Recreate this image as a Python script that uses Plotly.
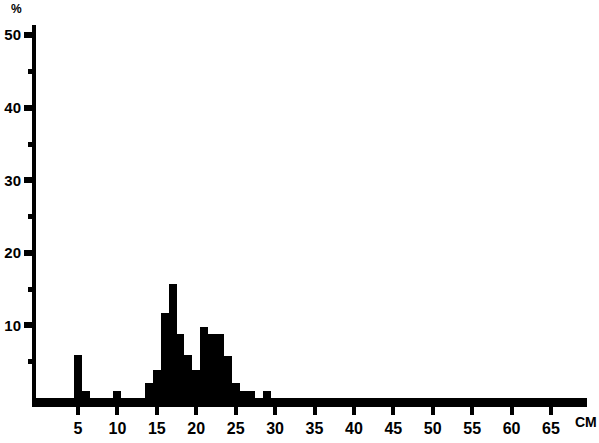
import plotly.graph_objects as go

# Data: size class (cm) and percentage
lengths = [5, 6, 10, 14, 15, 16, 17, 18, 19, 20, 21, 22, 23, 24, 25, 26, 27, 29]
percent = [5.9, 1.0, 1.0, 2.0, 3.9, 11.7, 15.7, 8.8, 5.9, 3.9, 9.8, 8.8, 8.8, 5.8, 2.0, 1.0, 1.0, 1.0]

x_ticks = [5, 10, 15, 20, 25, 30, 35, 40, 45, 50, 55, 60, 65]
y_ticks = [10, 20, 30, 40, 50]

FONT = "Liberation Sans, Arial, sans-serif"

fig = go.Figure(go.Bar(
    x=lengths, y=percent, width=1.0,
    marker=dict(color="black", line=dict(width=0)),
))

fig.update_layout(
    width=599, height=443,
    margin=dict(l=36, r=12, t=25, b=45),
    paper_bgcolor="white", plot_bgcolor="white",
    bargap=0, showlegend=False,
    font=dict(family=FONT, color="black", size=16, weight="bold"),
)

fig.update_xaxes(
    range=[-0.33, 69.57], automargin=False,
    showgrid=False, zeroline=False,
    showline=True, linecolor="black", linewidth=9,
    ticks="outside", ticklen=8, tickwidth=4, tickcolor="black",
    tickvals=x_ticks, ticktext=[str(v) for v in x_ticks],
    tickfont=dict(family=FONT, size=16, color="black", weight="bold"),
)

fig.update_yaxes(
    range=[0, 51.4], automargin=False,
    showgrid=False, zeroline=False,
    showline=True, linecolor="black", linewidth=4,
    ticks="outside", ticklen=8, tickwidth=6, tickcolor="black",
    tickvals=y_ticks, ticktext=[str(v) for v in y_ticks],
    tickfont=dict(family=FONT, size=15, color="black", weight="bold"),
    minor=dict(tickvals=[5, 15, 25, 35, 45], ticks="outside", ticklen=4,
               tickwidth=5, tickcolor="black", showgrid=False),
)

fig.add_annotation(text="%", xref="paper", yref="paper", x=-0.036, y=1.0,
                   xanchor="center", yanchor="middle", yshift=16, showarrow=False,
                   font=dict(family=FONT, size=12, color="black", weight="bold"))
fig.add_annotation(text="CM", xref="paper", yref="paper", x=0.998, y=0,
                   xanchor="center", yanchor="middle", yshift=-24, showarrow=False,
                   font=dict(family=FONT, size=14, color="black", weight="bold"))

fig.write_html("out.html",
               config={"displayModeBar": False},
               post_script="document.body.style.margin='0';document.body.style.overflow='hidden';")
